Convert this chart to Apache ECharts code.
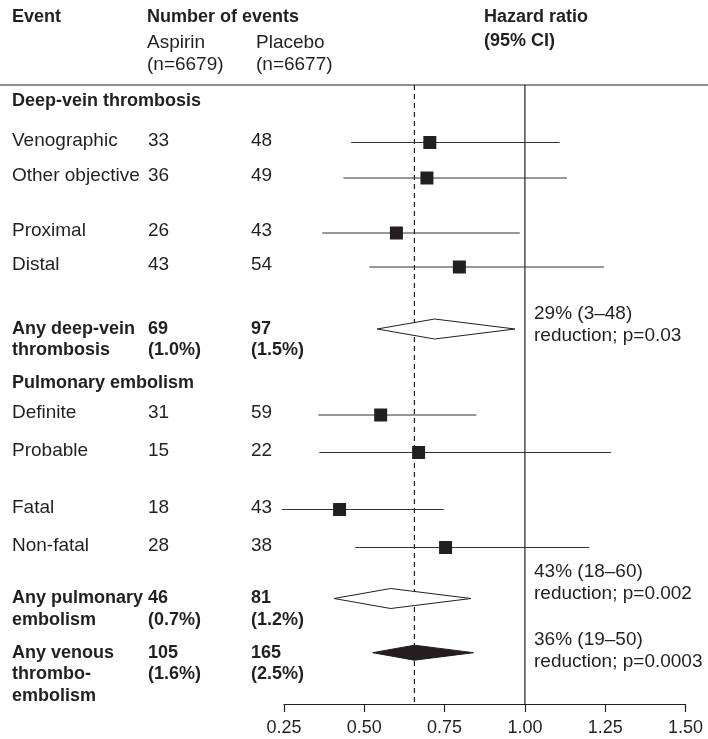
<!DOCTYPE html>
<html><head><meta charset="utf-8">
<script src="https://cdn.jsdelivr.net/npm/echarts@6/dist/echarts.min.js"></script>
<style>html,body{margin:0;padding:0;background:#fff}#c{width:708px;height:739px}</style>
</head><body><div id="c"></div>
<script>
// ---------- data ----------
const sectionLabels = ['Deep-vein thrombosis', 'Pulmonary embolism'];
const studyLabels = ['Venographic', 'Other objective', 'Proximal', 'Distal', 'Definite', 'Probable', 'Fatal', 'Non-fatal'];
const studyAspirin = ['33', '36', '26', '43', '31', '15', '18', '28'];
const studyPlacebo = ['48', '49', '43', '54', '59', '22', '43', '38'];
const studyHR = [0.704, 0.695, 0.600, 0.796, 0.551, 0.669, 0.423, 0.753];
const studyLo = [0.459, 0.435, 0.369, 0.516, 0.357, 0.360, 0.244, 0.472];
const studyHi = [1.108, 1.131, 0.984, 1.246, 0.849, 1.268, 0.747, 1.200];
const summaryLabels = ['Any deep-vein\nthrombosis', 'Any pulmonary\nembolism', 'Any venous\nthrombo-\nembolism'];
const summaryAspirin = ['69\n(1.0%)', '46\n(0.7%)', '105\n(1.6%)'];
const summaryPlacebo = ['97\n(1.5%)', '81\n(1.2%)', '165\n(2.5%)'];
const summaryHR = [0.719, 0.582, 0.656];
const summaryLo = [0.540, 0.406, 0.526];
const summaryHi = [0.969, 0.832, 0.840];
const summaryNotes = ['29% (3–48)\nreduction; p=0.03', '43% (18–60)\nreduction; p=0.002', '36% (19–50)\nreduction; p=0.0003'];
const refLines = [1.0, 0.656];
const xTicks = [0.25, 0.50, 0.75, 1.00, 1.25, 1.50];

// ---------- layout (y-axis units: px below header rule) ----------
const sectionPos = [16, 298];
const studyPos = [57.5, 93, 148, 182, 330, 367.5, 424.5, 462.5];
const summaryPos = [244, 513.5, 567.7];
const notePos = [229, 487, 555];
const colX = [12, 148, 251];
const noteX = 534;

const INK = '#231f20';
const FF = '"Liberation Sans", Arial, Helvetica, sans-serif';
const REG = '19px ' + FF;
const BOLD = 'bold 18px ' + FF;

const chart = echarts.init(document.getElementById('c'), null, {renderer: 'canvas'});

function txt(x, y, text, font, lh) {
  const multi = text.indexOf('\n') >= 0;
  return {
    type: 'text', x: x, y: multi ? y - lh / 2 : y,
    style: {text: text, font: font, fill: INK, align: 'left', verticalAlign: multi ? 'top' : 'middle', lineHeight: lh}
  };
}

const option = {
  animation: false,
  backgroundColor: '#fff',
  grid: {left: 284, width: 401.5, top: 85, bottom: 35},
  xAxis: {
    type: 'value', position: 'bottom', min: 0.25, max: 1.5, interval: 0.25,
    axisLine: {show: true, onZero: false, lineStyle: {color: INK, width: 1.2}},
    axisTick: {show: true, length: 8, inside: false, lineStyle: {color: INK, width: 1.2}},
    axisLabel: {
      color: INK, fontSize: 18, fontFamily: FF, margin: 15,
      formatter: v => { const t = xTicks.find(k => Math.abs(k - v) < 1e-9); return t === undefined ? '' : t.toFixed(2); }
    },
    splitLine: {show: false}
  },
  yAxis: {type: 'value', min: 0, max: 619, inverse: true, show: false},
  graphic: [
    {type: 'line', shape: {x1: 0, y1: 85, x2: 708, y2: 85}, style: {stroke: INK, lineWidth: 1.2}},
    txt(12, 17, 'Event', BOLD, 21),
    txt(147, 17, 'Number of events', BOLD, 21),
    txt(484, 17, 'Hazard ratio', BOLD, 21),
    txt(484, 41, '(95% CI)', BOLD, 21),
    txt(147, 43, 'Aspirin', REG, 21),
    txt(256, 43, 'Placebo', REG, 21),
    txt(147, 65, '(n=6679)', REG, 21),
    txt(256, 65, '(n=6677)', REG, 21)
  ],
  series: [
    { // reference lines
      type: 'custom', clip: false, silent: true,
      data: refLines.map((v, i) => [v, i]),
      encode: {x: 0},
      renderItem: (params, api) => {
        const a = api.coord([api.value(0), 0]);
        const b = api.coord([api.value(0), 619]);
        return {type: 'line', shape: {x1: a[0], y1: a[1], x2: b[0], y2: b[1]},
          style: {stroke: INK, lineWidth: 1.2, lineDash: api.value(1) === 1 ? [5, 4] : null}};
      }
    },
    { // study CIs and squares
      type: 'custom', clip: false, silent: true,
      data: studyHR.map((h, i) => [h, studyLo[i], studyHi[i], studyPos[i]]),
      encode: {x: [0, 1, 2], y: 3},
      renderItem: (params, api) => {
        const y = api.value(3);
        const c = api.coord([api.value(0), y]);
        const l = api.coord([api.value(1), y]);
        const r = api.coord([api.value(2), y]);
        const s = 13;
        return {type: 'group', children: [
          {type: 'line', shape: {x1: l[0], y1: l[1], x2: r[0], y2: r[1]}, style: {stroke: '#333', lineWidth: 1.2}},
          {type: 'rect', shape: {x: c[0] - s / 2, y: c[1] - s / 2, width: s, height: s}, style: {fill: INK}}
        ]};
      }
    },
    { // summary diamonds
      type: 'custom', clip: false, silent: true,
      data: summaryHR.map((h, i) => [h, summaryLo[i], summaryHi[i], summaryPos[i], i]),
      encode: {x: [0, 1, 2], y: 3},
      renderItem: (params, api) => {
        const y = api.value(3);
        const idx = api.value(4);
        const c = api.coord([api.value(0), y]);
        const l = api.coord([api.value(1), y]);
        const r = api.coord([api.value(2), y]);
        const filled = idx === 2;
        const hh = filled ? 7.5 : 10;
        return {type: 'polygon', shape: {points: [[l[0], l[1]], [c[0], c[1] - hh], [r[0], r[1]], [c[0], c[1] + hh]]},
          style: {fill: filled ? INK : '#fff', stroke: INK, lineWidth: 1}};
      }
    },
    { // table text: study rows
      type: 'custom', clip: false, silent: true,
      data: studyPos.map((p, i) => [0.25, p, i]),
      encode: {x: 0, y: 1},
      renderItem: (params, api) => {
        const i = api.value(2);
        const y = api.coord([0.25, api.value(1)])[1] - 2;
        return {type: 'group', children: [
          txt(colX[0], y, studyLabels[i], REG, 21),
          txt(colX[1], y, studyAspirin[i], REG, 21),
          txt(colX[2], y, studyPlacebo[i], REG, 21)
        ]};
      }
    },
    { // table text: summary rows + notes
      type: 'custom', clip: false, silent: true,
      data: summaryPos.map((p, i) => [0.25, p, i, notePos[i]]),
      encode: {x: 0, y: 1},
      renderItem: (params, api) => {
        const i = api.value(2);
        const y = api.coord([0.25, api.value(1)])[1];
        const yn = api.coord([0.25, api.value(3)])[1];
        return {type: 'group', children: [
          txt(colX[0], y, summaryLabels[i], BOLD, 21.5),
          txt(colX[1], y, summaryAspirin[i], BOLD, 21.5),
          txt(colX[2], y, summaryPlacebo[i], BOLD, 21.5),
          {type: 'text', x: noteX, y: yn - 10.75, style: {text: summaryNotes[i], font: REG, fill: INK, align: 'left', verticalAlign: 'top', lineHeight: 21.5}}
        ]};
      }
    },
    { // section headings
      type: 'custom', clip: false, silent: true,
      data: sectionPos.map((p, i) => [0.25, p, i]),
      encode: {x: 0, y: 1},
      renderItem: (params, api) => {
        const i = api.value(2);
        const y = api.coord([0.25, api.value(1)])[1];
        return txt(colX[0], y, sectionLabels[i], BOLD, 21);
      }
    }
  ]
};
chart.setOption(option);
</script>
</body></html>
